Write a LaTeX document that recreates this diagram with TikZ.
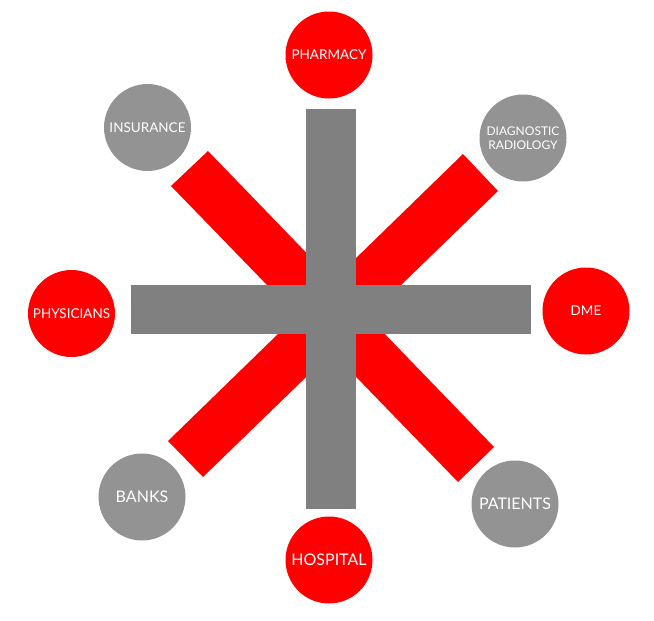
\documentclass[tikz,border=0pt]{standalone}
\usepackage{fontspec}
\setmainfont{Lato}
\definecolor{barred}{HTML}{FF0000}
\definecolor{crossgray}{HTML}{808080}
\definecolor{circgray}{HTML}{939393}
\tikzset{
  hub/.style={circle, minimum size=#1, inner sep=0pt, text=white, align=center},
  redhub/.style={hub=87pt, fill=barred},
  grayhub/.style={hub=87pt, fill=circgray},
  redbar/.style={fill=barred},
  graybar/.style={fill=crossgray},
}
\begin{document}
\begin{tikzpicture}[x=1pt,y=-1pt]
\useasboundingbox (0,0) rectangle (654,621);
% red diagonal bars
\fill[redbar] (208,151) -- (494,447) -- (458,482) -- (171,186) -- cycle;
\fill[redbar] (463,154) -- (498,191) -- (203,477) -- (168,441) -- cycle;
% gray cross
\fill[graybar] (306,109) rectangle (356,509);
\fill[graybar] (131,285) rectangle (531,334);
% circles
\node[redhub, font=\fontsize{13.5}{15}\selectfont] (pharmacy) at (329,55) {PHARMACY};
\node[grayhub, font=\fontsize{13.5}{15}\selectfont] (insurance) at (147.5,127.5) {INSURANCE};
\node[grayhub, font=\fontsize{12}{15}\selectfont] (diag) at (523,138) {DIAGNOSTIC\\[-1pt]RADIOLOGY};
\node[redhub, font=\fontsize{13.5}{15}\selectfont] (physicians) at (71.5,313.5) {PHYSICIANS};
\node[redhub, font=\fontsize{13.5}{15}\selectfont] (dme) at (586,311) {DME};
\node[grayhub, font=\fontsize{16}{18}\selectfont] (banks) at (142,497) {BANKS};
\node[grayhub, font=\fontsize{16}{18}\selectfont] (patients) at (515,504) {PATIENTS};
\node[redhub, font=\fontsize{16}{18}\selectfont] (hospital) at (329,560) {HOSPITAL};
\end{tikzpicture}
\end{document}
